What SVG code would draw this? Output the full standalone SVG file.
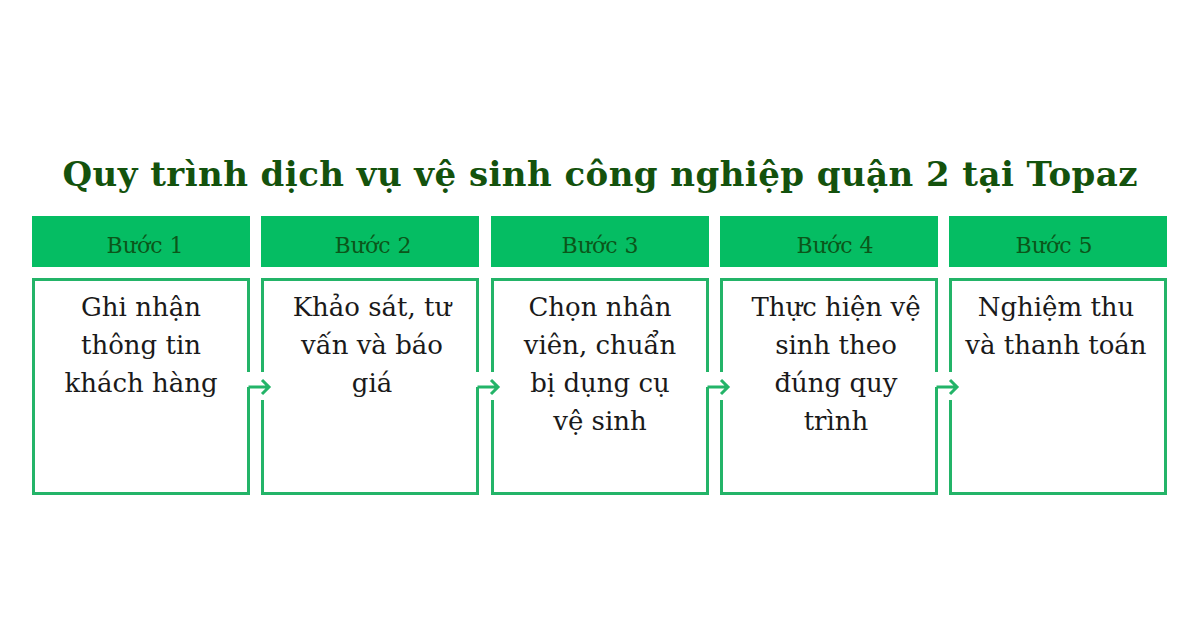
<svg xmlns="http://www.w3.org/2000/svg" width="1200" height="630" viewBox="0 0 1200 630">
<defs>
<style>
.title{font-family:"DejaVu Serif","Liberation Serif",serif;font-weight:bold;font-size:34px;fill:#14520d;text-anchor:middle}
.hdr{fill:#05bd63}
.htxt{font-family:"DejaVu Serif","Liberation Serif",serif;font-size:22px;fill:#0b561a;text-anchor:middle}
.body{fill:none;stroke:#23b468;stroke-width:3}
.btxt{font-family:"DejaVu Serif","Liberation Serif",serif;font-size:26px;fill:#1a1a1a;text-anchor:middle}
.conn{fill:none;stroke:#23b468;stroke-width:3}
</style>
</defs>
<rect width="1200" height="630" fill="#ffffff"/>
<text class="title" x="600" y="186" textLength="1075" lengthAdjust="spacing">Quy trình dịch vụ vệ sinh công nghiệp quận 2 tại Topaz</text>

<g id="step1">
<rect class="hdr" x="32" y="216" width="218" height="51"/>
<text class="htxt" x="145" y="253">Bước 1</text>
<path class="body" d="M248.5,372 V279.5 H33.5 V493.5 H248.5 V387"/>
<text class="btxt" x="141" y="316">Ghi nhận</text>
<text class="btxt" x="141" y="354">thông tin</text>
<text class="btxt" x="141" y="392">khách hàng</text>
</g>

<g id="step2">
<rect class="hdr" x="261" y="216" width="218" height="51"/>
<text class="htxt" x="373" y="253">Bước 2</text>
<path class="body" d="M262.5,372 V279.5 H477.5 V372 M477.5,387 V493.5 H262.5 V400"/>
<text class="btxt" x="372" y="316">Khảo sát, tư</text>
<text class="btxt" x="372" y="354">vấn và báo</text>
<text class="btxt" x="372" y="392">giá</text>
</g>

<g id="step3">
<rect class="hdr" x="491" y="216" width="218" height="51"/>
<text class="htxt" x="600" y="253">Bước 3</text>
<path class="body" d="M492.5,372 V279.5 H707.5 V372 M707.5,387 V493.5 H492.5 V400"/>
<text class="btxt" x="600" y="316">Chọn nhân</text>
<text class="btxt" x="600" y="354">viên, chuẩn</text>
<text class="btxt" x="600" y="392">bị dụng cụ</text>
<text class="btxt" x="600" y="430">vệ sinh</text>
</g>

<g id="step4">
<rect class="hdr" x="720" y="216" width="218" height="51"/>
<text class="htxt" x="835" y="253">Bước 4</text>
<path class="body" d="M721.5,372 V279.5 H936.5 V372 M936.5,387 V493.5 H721.5 V400"/>
<text class="btxt" x="836" y="316">Thực hiện vệ</text>
<text class="btxt" x="836" y="354">sinh theo</text>
<text class="btxt" x="836" y="392">đúng quy</text>
<text class="btxt" x="836" y="430">trình</text>
</g>

<g id="step5">
<rect class="hdr" x="949" y="216" width="218" height="51"/>
<text class="htxt" x="1054" y="253">Bước 5</text>
<path class="body" d="M950.5,372 V279.5 H1165.5 V493.5 H950.5 V400"/>
<text class="btxt" x="1056" y="316">Nghiệm thu</text>
<text class="btxt" x="1056" y="354">và thanh toán</text>
</g>

<g id="connectors">
<path class="conn" d="M248.5,387 H269 M262,380 L269,387 L262,394"/>
<path class="conn" d="M477.5,387 H498 M491,380 L498,387 L491,394"/>
<path class="conn" d="M707.5,387 H728 M721,380 L728,387 L721,394"/>
<path class="conn" d="M936.5,387 H957 M950,380 L957,387 L950,394"/>
</g>
</svg>
